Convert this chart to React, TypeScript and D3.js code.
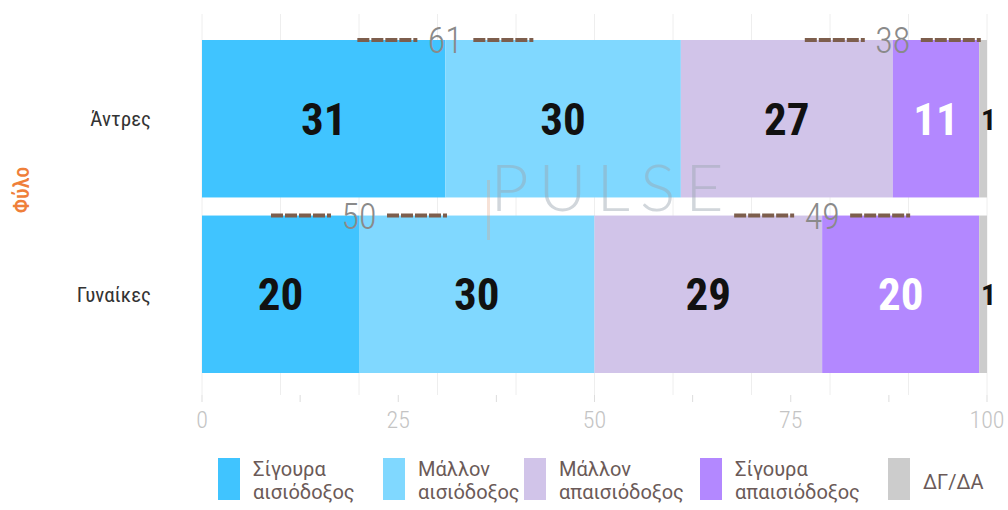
import React from 'react';
import * as d3 from 'd3';

// chart data
const groups = ['Άντρες', 'Γυναίκες'];
const seriesNames = ['Σίγουρα αισιόδοξος', 'Μάλλον αισιόδοξος', 'Μάλλον απαισιόδοξος', 'Σίγουρα απαισιόδοξος', 'ΔΓ/ΔΑ'];
const legendLines = [['Σίγουρα', 'αισιόδοξος'], ['Μάλλον', 'αισιόδοξος'], ['Μάλλον', 'απαισιόδοξος'], ['Σίγουρα', 'απαισιόδοξος'], ['ΔΓ/ΔΑ']];
const definitelyOptimistic = [31, 20];
const ratherOptimistic = [30, 30];
const ratherPessimistic = [27, 29];
const definitelyPessimistic = [11, 20];
const dontKnow = [1, 1];
const optimisticTotals = [61, 50];
const pessimisticTotals = [38, 49];
const xTicks = [0, 25, 50, 75, 100];
const colors = ['#40c4ff', '#80d8ff', '#d1c4e9', '#b388ff', '#cccccc'];

const W = 1008;
const H = 510;
const COND = '"Roboto Condensed", "Liberation Sans Narrow", Roboto, sans-serif';
const SANS = 'Roboto, "Noto Sans", sans-serif';

const rows = groups.map((g, i) => ({
  group: g,
  [seriesNames[0]]: definitelyOptimistic[i],
  [seriesNames[1]]: ratherOptimistic[i],
  [seriesNames[2]]: ratherPessimistic[i],
  [seriesNames[3]]: definitelyPessimistic[i],
  [seriesNames[4]]: dontKnow[i],
}));

const App = () => {
  const x = d3.scaleLinear().domain([0, 100]).range([202, 987]);
  const y = d3.scaleBand().domain(groups).range([40, 373]).paddingInner(0.103);
  const stacked = d3.stack().keys(seriesNames)(rows as any);

  const gridVals = d3.range(0, 101, 10);
  const minorTicks = d3.range(0, 100.1, 12.5);
  const legendX = [218, 383, 524, 700, 888];

  const totalLabel = (value: number, at: number, yy: number, key: string) => {
    const cx = x(at);
    return (
      <g key={key}>
        <line x1={cx - 88} x2={cx - 28} y1={yy} y2={yy} stroke="#7d5e4d" strokeWidth={4} strokeDasharray="12,2" />
        <line x1={cx + 28} x2={cx + 88} y1={yy} y2={yy} stroke="#7d5e4d" strokeWidth={4} strokeDasharray="12,2" />
        <text x={cx} y={yy} dy="0.36em" textAnchor="middle" fontSize={36} fontWeight={300} fill="#8a8a8a" fontFamily={COND}>
          {value}
        </text>
      </g>
    );
  };

  return (
    <svg width={W} height={H} style={{ position: 'absolute', left: 0, top: 0, background: '#fff' }}>
      {/* grid */}
      {gridVals.map(v => (
        <line key={'g' + v} x1={x(v)} x2={x(v)} y1={14} y2={395} stroke="#eeeeee" strokeWidth={1} />
      ))}
      {minorTicks.map(v => (
        <line key={'t' + v} x1={x(v)} x2={x(v)} y1={395} y2={402} stroke="#dddddd" strokeWidth={1} />
      ))}
      {xTicks.map(v => (
        <text key={'l' + v} x={x(v)} y={420} dy="0.35em" textAnchor="middle" fontSize={24} fontWeight={300} fill="#c4c4c4" fontFamily={COND}>
          {v}
        </text>
      ))}

      {/* bars */}
      {stacked.map((s, si) => (
        <g key={seriesNames[si]} fill={colors[si]}>
          {s.map((d, gi) => (
            <rect key={groups[gi]} x={x(d[0])} y={y(groups[gi])} width={x(d[1]) - x(d[0])} height={y.bandwidth()} />
          ))}
        </g>
      ))}

      {/* watermark */}
      <text x={612} y={211} textAnchor="middle" fontSize={66} fontWeight={300} fill="#9aa6b0" opacity={0.45} letterSpacing={10} fontFamily="Lato, sans-serif">
        PULSE
      </text>
      <rect x={487} y={180} width={3} height={60} fill="#e6a07a" opacity={0.3} />

      {/* segment labels */}
      {stacked.map((s, si) =>
        s.map((d, gi) => {
          const v = d[1] - d[0];
          const cy = (y(groups[gi]) as number) + y.bandwidth() / 2;
          if (si === 4) {
            return (
              <text key={'v' + si + gi} x={x(d[1]) - 6} y={cy} dy="0.36em" fontSize={30} fontWeight={700} fill="#111" fontFamily={COND}>
                {v}
              </text>
            );
          }
          return (
            <text key={'v' + si + gi} x={(x(d[0]) + x(d[1])) / 2} y={cy} dy="0.36em" textAnchor="middle" fontSize={45} fontWeight={700}
              fill={si === 3 ? '#ffffff' : '#111111'} fontFamily={COND}>
              {v}
            </text>
          );
        })
      )}

      {/* totals */}
      {groups.map((g, gi) => totalLabel(optimisticTotals[gi], definitelyOptimistic[gi], y(g) as number, 'o' + gi))}
      {groups.map((g, gi) =>
        totalLabel(pessimisticTotals[gi], definitelyOptimistic[gi] + ratherOptimistic[gi] + ratherPessimistic[gi], y(g) as number, 'p' + gi)
      )}

      {/* category axis */}
      {groups.map(g => (
        <text key={'c' + g} x={151} y={(y(g) as number) + y.bandwidth() / 2} dy="0.35em" textAnchor="end" fontSize={21} fill="#333" fontFamily={COND}>
          {g}
        </text>
      ))}
      <text transform="translate(21,190) rotate(-90)" textAnchor="middle" dy="0.35em" fontSize={22} fontWeight={500} fill="#ef7f3a" fontFamily={COND}>
        Φύλο
      </text>

      {/* legend */}
      {legendLines.map((lines, i) => (
        <g key={'lg' + i} transform={`translate(${legendX[i]},458)`}>
          <rect width={22} height={42} fill={colors[i]} />
          {lines.map((t, li) => (
            <text key={t} x={35} y={lines.length === 1 ? 24 : 11 + li * 23} dy="0.35em" fontSize={20} fill="#6b5a58" fontFamily={SANS}>
              {t}
            </text>
          ))}
        </g>
      ))}
    </svg>
  );
};

export default App;
